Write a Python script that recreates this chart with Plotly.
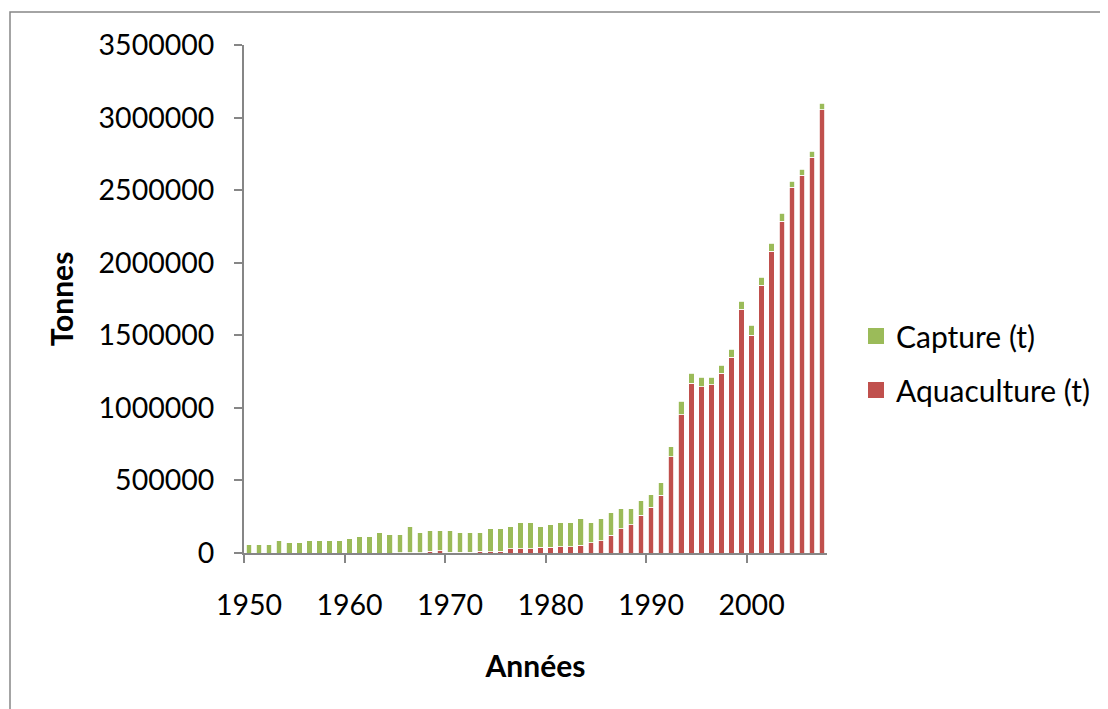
import plotly.graph_objects as go

years = list(range(1950, 2008))

total = [57000, 57000, 57000, 85000, 71000, 71000, 85000, 85000, 85000, 85000,
         98000, 112000, 112000, 140000, 126000, 126000, 181000, 140000, 153000, 153000,
         153000, 140000, 140000, 140000, 167000, 167000, 181000, 209000, 209000, 181000,
         195000, 209000, 209000, 236000, 209000, 236000, 277000, 305000, 305000, 360000,
         401000, 484000, 731000, 1047000, 1240000, 1212000, 1212000, 1295000, 1405000, 1735000,
         1570000, 1900000, 2134000, 2340000, 2560000, 2643000, 2767000, 3097000]

aquaculture = [0, 0, 0, 0, 0, 0, 0, 0, 0, 0,
               0, 0, 0, 0, 0, 3000, 3000, 3000, 12000, 16000,
               5000, 5000, 5000, 12000, 8000, 12000, 30000, 30000, 30000, 41000,
               41000, 44000, 44000, 55000, 69000, 83000, 124000, 167000, 193000, 259000,
               314000, 397000, 662000, 951000, 1169000, 1144000, 1158000, 1240000, 1350000, 1680000,
               1501000, 1845000, 2079000, 2285000, 2519000, 2602000, 2725000, 3055000]

capture = [t - a for t, a in zip(total, aquaculture)]

tick_years = [1950, 1960, 1970, 1980, 1990, 2000]
tick_bounds = [y - 0.5 for y in tick_years]

GREEN = "#9BBB59"
RED = "#C0504D"
AXIS = "#868686"
FONT = "Lato"

fig = go.Figure()
fig.add_trace(go.Bar(x=years, y=aquaculture, name="Aquaculture (t)",
                     marker=dict(color=RED, line=dict(color="white", width=0.8)),
                     width=0.55, showlegend=False))
fig.add_trace(go.Bar(x=years, y=capture, name="Capture (t)",
                     marker=dict(color=GREEN, line=dict(color="white", width=0.8)),
                     width=0.55, showlegend=False))
# legend entries
fig.add_trace(go.Scatter(x=[None], y=[None], mode="markers", name="Capture (t)",
                         marker=dict(symbol="square", size=16, color=GREEN),
                         legendgroup="c"))
fig.add_trace(go.Scatter(x=[None], y=[None], mode="markers", name="Aquaculture (t)",
                         marker=dict(symbol="square", size=16, color=RED),
                         legendgroup="a"))

# page body adds an 8px offset; work in page pixels and shift
OFF = 8
W, H = 1108 - OFF, 709 - OFF
L, T = 244 - OFF, 45 - OFF
R = W - (827 - OFF)
B = H - (553 - OFF)
pw, ph = W - L - R, H - T - B

def px_x(p):
    return (p - OFF - L) / pw

def px_y(p):
    return (H - B - (p - OFF)) / ph

fig.update_layout(
    width=W, height=H,
    margin=dict(l=L, r=R, t=T, b=B, pad=0),
    paper_bgcolor="white", plot_bgcolor="white",
    barmode="stack", bargap=0.45,
    font=dict(family=FONT, size=28.5, color="black"),
    showlegend=True,
    legend=dict(x=px_x(856), y=px_y(363), xanchor="left", yanchor="middle",
                traceorder="grouped", tracegroupgap=12,
                font=dict(family=FONT, size=30, color="black"),
                bgcolor="rgba(0,0,0,0)"),
    xaxis=dict(range=[1949.5, 2007.5], showgrid=False, zeroline=False,
               showline=True, linecolor=AXIS, linewidth=2,
               tickmode="array", tickvals=tick_years, ticktext=[str(y) for y in tick_years],
               ticks="outside", ticklen=8, tickcolor="rgba(0,0,0,0)",
               ticklabelstandoff=18,
               tickfont=dict(family=FONT, size=28.5, color="black"),
               minor=dict(tickmode="array", tickvals=tick_bounds, ticks="outside",
                          ticklen=8, tickwidth=2, tickcolor=AXIS),
               title=dict(text="<b>Années</b>", standoff=36,
                          font=dict(family=FONT, size=30, color="black")),
               fixedrange=True),
    yaxis=dict(range=[0, 3500000], dtick=500000, tickformat="d", showgrid=False,
               zeroline=False, showline=True, linecolor=AXIS, linewidth=2,
               ticks="outside", ticklen=8, tickwidth=2, tickcolor=AXIS,
               ticklabelstandoff=14,
               tickfont=dict(family=FONT, size=28.5, color="black"),
               title=dict(text="<b>Tonnes</b>", standoff=16,
                          font=dict(family=FONT, size=30, color="black")),
               fixedrange=True),
    shapes=[dict(type="rect", xref="paper", yref="paper",
                 x0=px_x(10), x1=px_x(1200), y0=px_y(800), y1=px_y(12),
                 line=dict(color=AXIS, width=1.5), fillcolor="rgba(0,0,0,0)",
                 layer="below")],
)

fig.write_html("out.html")
